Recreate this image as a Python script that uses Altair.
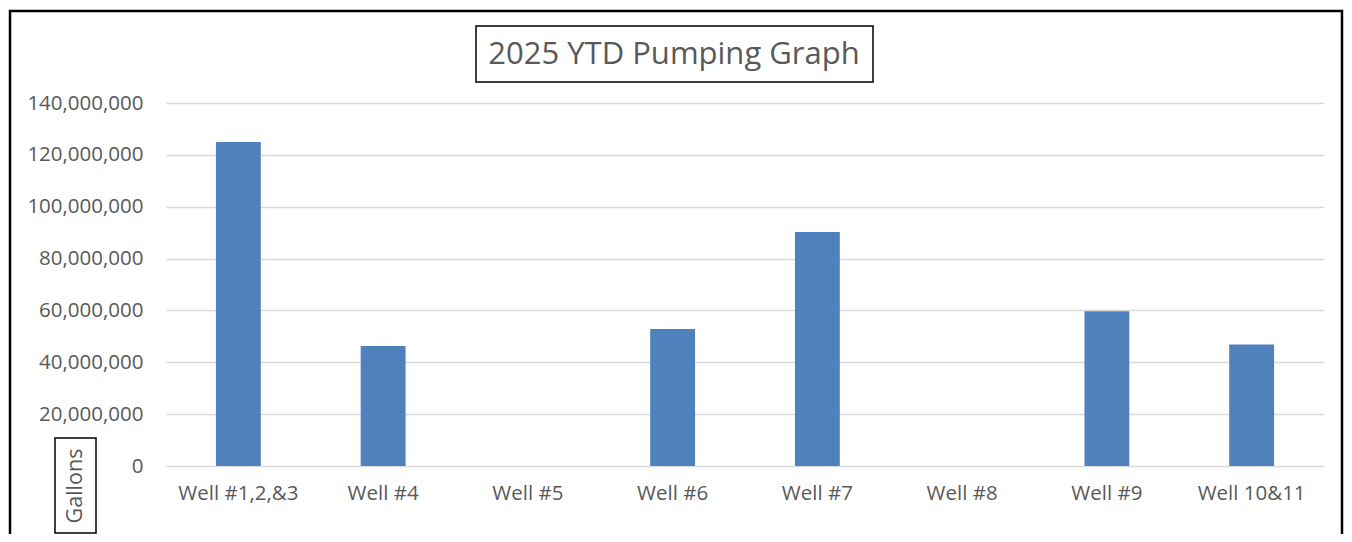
import altair as alt
import pandas as pd

wells = ["Well #1,2,&3", "Well #4", "Well #5", "Well #6", "Well #7", "Well #8", "Well #9", "Well 10&11"]
gallons = [125000000, 46300000, 0, 52800000, 90200000, 0, 59700000, 46900000]
y_ticks = [0, 20000000, 40000000, 60000000, 80000000, 100000000, 120000000, 140000000]
title_text = "2025 YTD Pumping Graph"
y_title = "Gallons"

df = pd.DataFrame({"well": wells, "gallons": gallons})

FONT = "Open Sans"
GRAY = "#595959"
W, H = 1158, 363

bars = alt.Chart(df).mark_bar(color="#4f81bd").encode(
    x=alt.X("well:N", sort=None, title=None,
            scale=alt.Scale(paddingInner=0.69, paddingOuter=0.345),
            axis=alt.Axis(labelAngle=0, labelFont=FONT, labelFontSize=20.5, labelColor=GRAY,
                          ticks=False, domain=False, labelPadding=17, grid=False)),
    y=alt.Y("gallons:Q", title=None,
            scale=alt.Scale(domain=[0, 140000000], nice=False),
            axis=alt.Axis(values=y_ticks, format=",d", labelFont=FONT, labelFontSize=20.5,
                          labelColor=GRAY, ticks=False, domain=False, labelPadding=23,
                          gridColor="#d9d9d9", gridWidth=1.5)),
)

one = alt.Data(values=[{"t": title_text, "g": y_title}])

border = alt.Chart(one).mark_rect(fill=None, stroke="black", strokeWidth=2.5).encode(
    x=alt.value(-156), x2=alt.value(1176), y=alt.value(-92), y2=alt.value(460))

title_box = alt.Chart(one).mark_rect(fill="white", stroke="black", strokeWidth=1.5).encode(
    x=alt.value(310), x2=alt.value(707), y=alt.value(-77), y2=alt.value(-21))
title = alt.Chart(one).mark_text(font=FONT, fontSize=31, color=GRAY, align="center", baseline="middle").encode(
    x=alt.value(508), y=alt.value(-48), text="t:N")

g_box = alt.Chart(one).mark_rect(fill="white", stroke="black", strokeWidth=1.5).encode(
    x=alt.value(-111), x2=alt.value(-70), y=alt.value(335), y2=alt.value(430))
g_text = alt.Chart(one).mark_text(font=FONT, fontSize=21.5, color=GRAY, align="center", baseline="middle", angle=270).encode(
    x=alt.value(-90), y=alt.value(383), text="g:N")

chart = alt.layer(bars, border, title_box, title, g_box, g_text).properties(
    width=W, height=H,
    background="white",
    autosize=alt.AutoSizeParams(type="none"),
    padding={"left": 158, "top": 95, "right": 20, "bottom": 68},
).configure_view(stroke=None)

chart.save("out.html", embed_options={"renderer": "svg", "actions": False})
